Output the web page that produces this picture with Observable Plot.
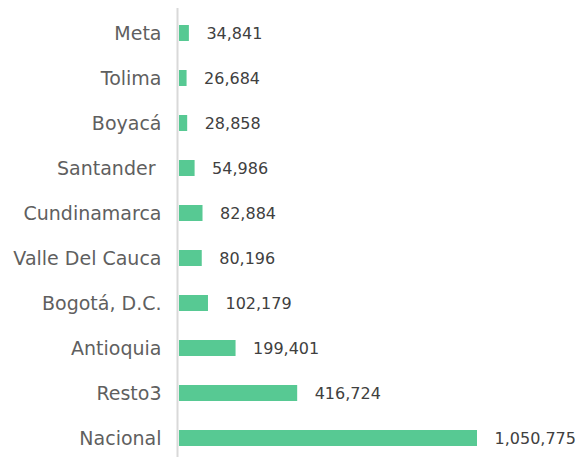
<!DOCTYPE html>
<html><head><meta charset="utf-8">
<script src="https://cdn.jsdelivr.net/npm/d3@7"></script>
<script src="https://cdn.jsdelivr.net/npm/@observablehq/plot@0.6"></script>
<style>body{margin:0;background:#fff}</style>
</head><body><div id="chart"></div>
<script>
const categories = ["Meta","Tolima","Boyacá","Santander\u00a0","Cundinamarca","Valle Del Cauca","Bogotá, D.C.","Antioquia","Resto3","Nacional"];
const values = [34841,26684,28858,54986,82884,80196,102179,199401,416724,1050775];
const data = categories.map((c,i)=>({category:c, value:values[i]}));
const fmt = d3.format(",");
const chart = Plot.plot({
  width:577, height:457, marginLeft:179, marginRight:100, marginTop:13, marginBottom:0,
  style:{fontFamily:"DejaVu Sans", background:"#fff"},
  x:{domain:[0,1050775], axis:null},
  y:{domain:categories, paddingInner:0.649, paddingOuter:0.1975, axis:null},
  marks:[
    Plot.barX(data,{y:"category", x:"value", fill:"#57C993"}),
    Plot.ruleX([0],{stroke:"#d9d9d9", strokeWidth:2, dx:-2, insetTop:-5}),
    Plot.text(data,{y:"category", text:"category", frameAnchor:"left", textAnchor:"end", dx:-18, fontSize:19, fill:"#5f5f5f"}),
    Plot.text(data,{x:"value", y:"category", text:d=>fmt(d.value), textAnchor:"start", dx:17, fontSize:16, fill:"#404040"})
  ]
});
document.getElementById("chart").append(chart);
</script>
</body></html>
